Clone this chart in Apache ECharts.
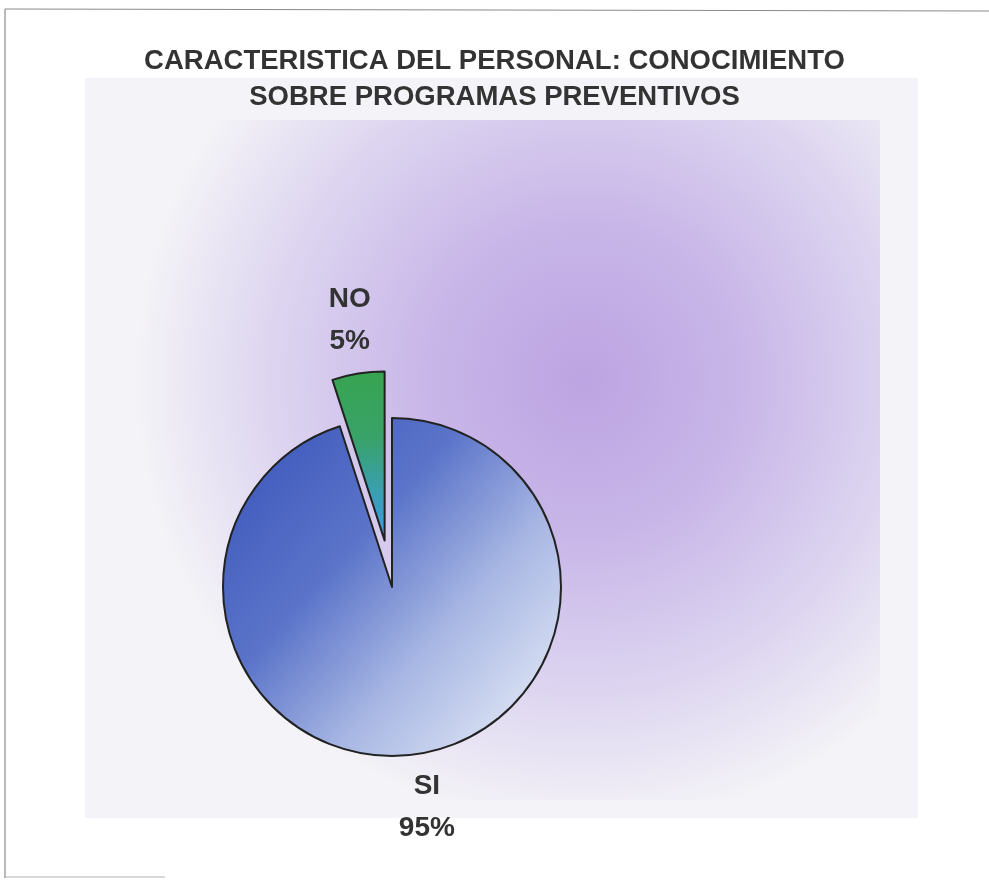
<!DOCTYPE html>
<html>
<head>
<meta charset="utf-8">
<title>Conocimiento sobre programas preventivos</title>
<script src="https://cdn.jsdelivr.net/npm/echarts@6/dist/echarts.min.js"></script>
<style>
  html, body { margin: 0; padding: 0; background: #ffffff; }
  #chart { width: 989px; height: 880px; }
</style>
</head>
<body>
<div id="chart"></div>
<script>
// datos del grafico
let titleLines = ['CARACTERISTICA DEL PERSONAL: CONOCIMIENTO', 'SOBRE PROGRAMAS PREVENTIVOS']
let categories = ['SI', 'NO']
let values = [95, 5]
let selectedCats = ['NO']

let sliceColors = {
  SI: {
    type: 'linear', x: 0, y: 0.1, x2: 1, y2: 1,
    colorStops: [
      { offset: 0, color: '#3b56bb' },
      { offset: 0.35, color: '#5b74c9' },
      { offset: 0.62, color: '#a7b6e3' },
      { offset: 1, color: '#f1f5fb' }
    ]
  },
  NO: {
    type: 'linear', x: 0, y: 0, x2: 0, y2: 1,
    colorStops: [
      { offset: 0, color: '#37a44f' },
      { offset: 0.4, color: '#39a26a' },
      { offset: 0.7, color: '#3a9fb0' },
      { offset: 1, color: '#3b9ce4' }
    ]
  }
}

let chart = echarts.init(document.getElementById('chart'), null, { renderer: 'canvas' })

let seriesData = categories.map((name, idx) => {
  return {
    name: name,
    value: values[idx],
    selected: selectedCats.includes(name),
    itemStyle: { color: sliceColors[name] }
  }
})

let option = {
  backgroundColor: '#ffffff',
  animation: false,
  title: {
    text: titleLines.join('\n'),
    left: 'center',
    top: 38,
    textStyle: {
      fontFamily: 'Liberation Sans, Arial, sans-serif',
      fontSize: 27.5,
      fontWeight: 'bold',
      color: '#333333',
      lineHeight: 36
    }
  },
  graphic: [
    // marco de la hoja escaneada
    { type: 'line', z: -5, shape: { x1: 5, y1: 9, x2: 989, y2: 11 }, style: { stroke: '#8a8a8a', lineWidth: 1.2 } },
    { type: 'line', z: -5, shape: { x1: 5, y1: 9, x2: 5, y2: 878 }, style: { stroke: '#8a8a8a', lineWidth: 1.2 } },
    { type: 'line', z: -5, shape: { x1: 5, y1: 877, x2: 165, y2: 877 }, style: { stroke: '#b0b0b0', lineWidth: 1 } },
    // fondo del area del grafico
    {
      type: 'rect', z: -10,
      shape: { x: 85, y: 78, width: 833, height: 740 },
      style: { fill: '#f4f3f7' }
    },
    {
      type: 'rect', z: -9,
      shape: { x: 140, y: 120, width: 740, height: 680 },
      style: {
        fill: {
          type: 'radial', x: 0.6, y: 0.38, r: 0.66,
          colorStops: [
            { offset: 0, color: '#bda4e2' },
            { offset: 0.35, color: '#c8b6e8' },
            { offset: 0.7, color: '#ddd5f0' },
            { offset: 1, color: '#f4f3f7' }
          ]
        }
      }
    }
  ],
  series: [
    {
      type: 'pie',
      center: [392, 587],
      radius: 169,
      startAngle: 90,
      clockwise: true,
      selectedMode: 'single',
      selectedOffset: 47,
      avoidLabelOverlap: false,
      emphasis: { disabled: true },
      itemStyle: {
        borderColor: '#222222',
        borderWidth: 2
      },
      label: {
        show: true,
        position: 'outside',
        formatter: '{b}\n{d}%',
        fontFamily: 'Liberation Sans, Arial, sans-serif',
        fontSize: 28,
        fontWeight: 'bold',
        color: '#333333',
        lineHeight: 42,
        distanceToLabelLine: 0
      },
      labelLine: {
        show: false,
        length: 54,
        length2: 0
      },
      labelLayout: function () {
        return { align: 'center', verticalAlign: 'middle' }
      },
      data: seriesData
    }
  ]
}

chart.setOption(option)
</script>
</body>
</html>
